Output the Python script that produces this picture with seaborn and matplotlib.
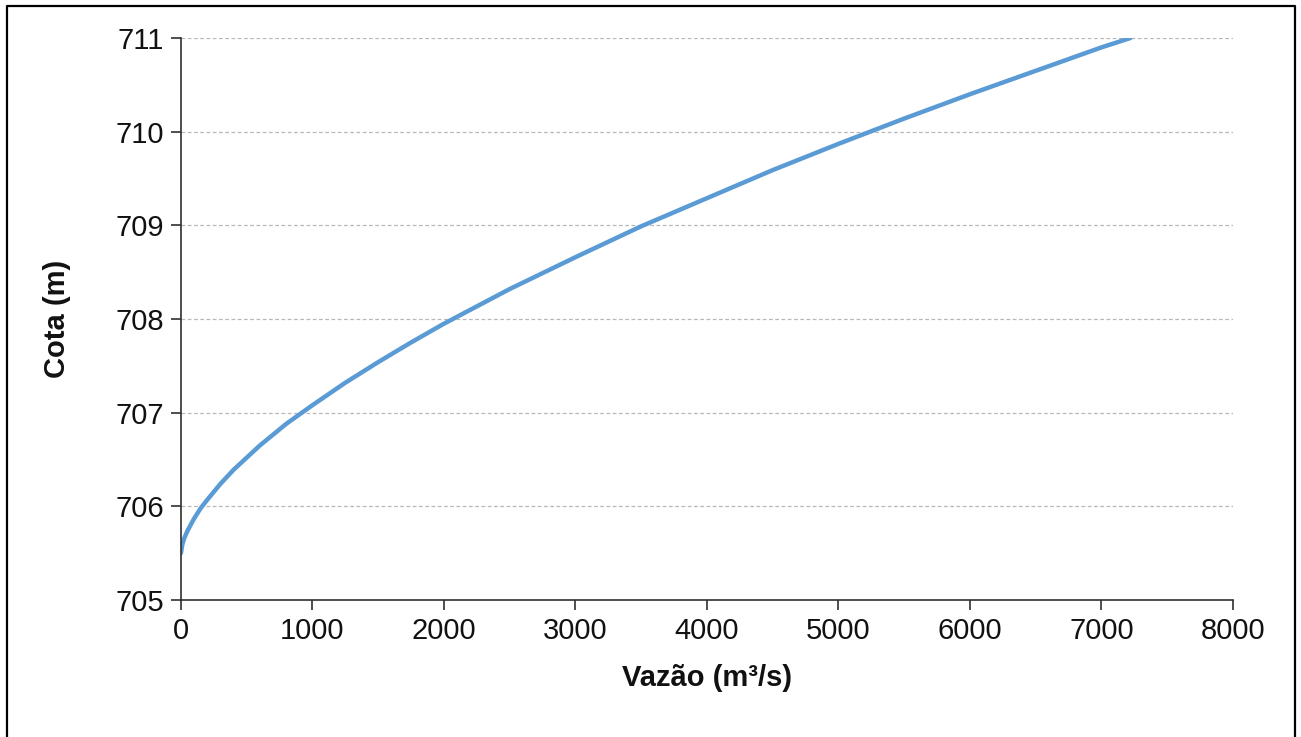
import matplotlib
matplotlib.use("Agg")
import matplotlib.pyplot as plt
from matplotlib.lines import Line2D
import seaborn as sns
import pandas as pd

# Rating curve: discharge (m³/s) versus water level (m)
vazao = [0, 10, 25, 50, 100, 150, 200, 300, 400, 500, 600, 800, 1000, 1250, 1500, 1750,
         2000, 2500, 3000, 3500, 4000, 4500, 5000, 5500, 6000, 6500, 7000, 7220]
cota = [705.50, 705.59, 705.66, 705.74, 705.87, 705.98, 706.07, 706.24, 706.39, 706.52,
        706.65, 706.88, 707.08, 707.32, 707.54, 707.75, 707.95, 708.32, 708.66, 708.99,
        709.29, 709.59, 709.87, 710.14, 710.40, 710.65, 710.90, 711.00]

x_ticks = [0, 1000, 2000, 3000, 4000, 5000, 6000, 7000, 8000]
y_ticks = [705, 706, 707, 708, 709, 710, 711]

df = pd.DataFrame({"Vazão": vazao, "Cota": cota})

sns.set_theme(style="white")
plt.rcParams["font.family"] = ["Liberation Sans", "DejaVu Sans"]

fig = plt.figure(figsize=(13.01, 7.37), dpi=100)
ax = fig.add_axes([0.1391, 0.1859, 0.8086, 0.7625])

sns.lineplot(data=df, x="Vazão", y="Cota", ax=ax, color="#5B9BD5",
             linewidth=3.2, sort=False, estimator=None)
ax.lines[-1].set_solid_joinstyle("round")

ax.set_xlim(0, 8000)
ax.set_ylim(705, 711)
ax.set_xticks(x_ticks)
ax.set_yticks(y_ticks)
ax.set_xticklabels([str(v) for v in x_ticks])
ax.set_yticklabels([str(v) for v in y_ticks])

ax.yaxis.grid(True, color="#b8b8b8", linestyle=(0, (3, 2)), linewidth=0.9)
ax.xaxis.grid(False)
ax.set_axisbelow(True)

for side in ("top", "right"):
    ax.spines[side].set_visible(False)
for side in ("left", "bottom"):
    ax.spines[side].set_color("#303030")
    ax.spines[side].set_linewidth(1.2)

ax.tick_params(axis="both", which="major", direction="out", length=7, width=1.2,
               color="#303030", labelsize=21, labelcolor="#111111", pad=5,
               bottom=True, left=True)

ax.set_xlabel("Vazão (m³/s)", fontsize=21, fontweight="bold", color="#111111", labelpad=14)
ax.set_ylabel("Cota (m)", fontsize=21, fontweight="bold", color="#111111", labelpad=32)

# Frame around the figure (bottom edge falls outside the image)
W, H = 1301, 737
frame = Line2D([7 / W, 7 / W, 1295 / W, 1295 / W],
               [-0.01, 1 - 6 / H, 1 - 6 / H, -0.01],
               transform=fig.transFigure, color="black", linewidth=1.6)
fig.add_artist(frame)

fig.savefig("out.png", dpi=100, facecolor="white")
